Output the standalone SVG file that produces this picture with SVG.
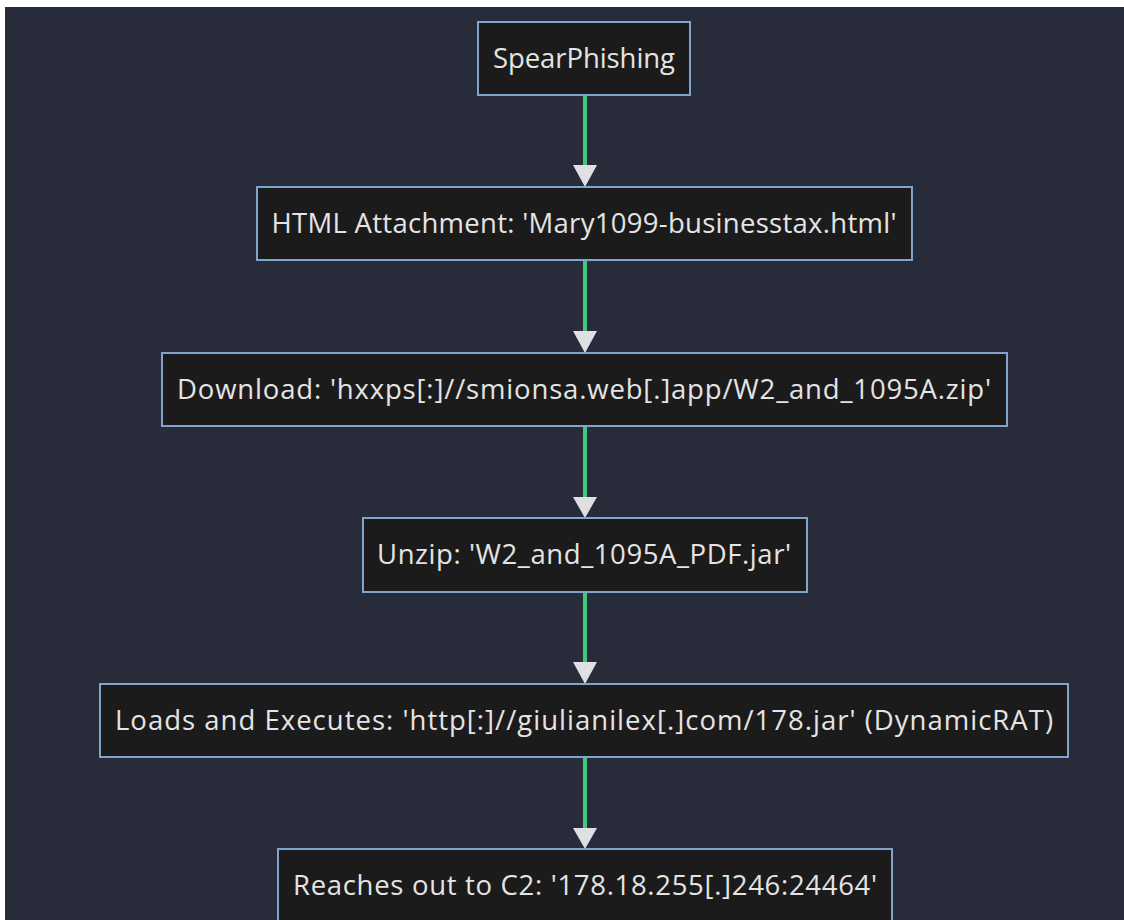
<svg xmlns="http://www.w3.org/2000/svg" width="1124" height="920" viewBox="0 0 1124 920">
<style>
.bg{fill:#282c3a}
.node rect{fill:#1c1b1c;stroke:#7fa5cc;stroke-width:2}
.node text{fill:#e4e4e4;font-family:"Open Sans","Noto Sans",sans-serif;font-size:27.5px;text-anchor:middle}
.edge{stroke:#3fc97c;stroke-width:4;fill:none}
.head{fill:#e0e0e2}
</style>
<rect x="0" y="0" width="1124" height="920" fill="#ffffff"/>
<rect class="bg" x="5" y="7" width="1119" height="913"/>
<g id="connectors">
<line class="edge" x1="585" y1="96" x2="585" y2="168"/>
<polygon class="head" points="573,165 597,165 585,187"/>
<line class="edge" x1="585" y1="261" x2="585" y2="334"/>
<polygon class="head" points="573,331 597,331 585,353"/>
<line class="edge" x1="585" y1="427" x2="585" y2="500"/>
<polygon class="head" points="573,497 597,497 585,518"/>
<line class="edge" x1="585" y1="593" x2="585" y2="665"/>
<polygon class="head" points="573,662 597,662 585,684"/>
<line class="edge" x1="585" y1="758" x2="585" y2="831"/>
<polygon class="head" points="573,828 597,828 585,849"/>
</g>
<g id="n1" class="node"><rect x="478" y="22" width="212" height="73"/><text x="584" y="68" textLength="182" lengthAdjust="spacing">SpearPhishing</text></g>
<g id="n2" class="node"><rect x="257" y="187" width="655" height="73"/><text x="584" y="233" textLength="625" lengthAdjust="spacing">HTML Attachment: 'Mary1099-businesstax.html'</text></g>
<g id="n3" class="node"><rect x="162" y="353" width="845" height="73"/><text x="584" y="399" textLength="814" lengthAdjust="spacing">Download: 'hxxps[:]//smionsa.web[.]app/W2_and_1095A.zip'</text></g>
<g id="n4" class="node"><rect x="363" y="518" width="444" height="74"/><text x="584" y="564" textLength="414" lengthAdjust="spacing">Unzip: 'W2_and_1095A_PDF.jar'</text></g>
<g id="n5" class="node"><rect x="100" y="684" width="968" height="73"/><text x="584" y="730" textLength="938" lengthAdjust="spacing">Loads and Executes: 'http[:]//giulianilex[.]com/178.jar' (DynamicRAT)</text></g>
<g id="n6" class="node"><rect x="278" y="849" width="614" height="73"/><text x="585" y="895" textLength="584" lengthAdjust="spacing">Reaches out to C2: '178.18.255[.]246:24464'</text></g>
</svg>
